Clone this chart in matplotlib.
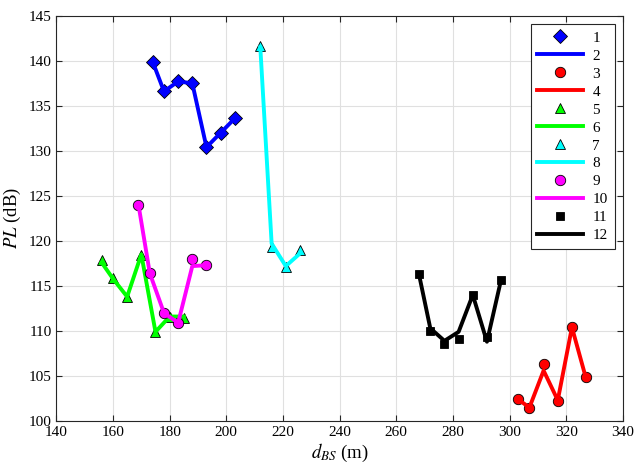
import matplotlib
matplotlib.use("Agg")
import matplotlib.pyplot as plt

plt.rcParams['font.family'] = ['Liberation Serif', 'DejaVu Serif']
plt.rcParams['mathtext.fontset'] = 'stix'

# Data
blue_x = [174, 178, 183, 188, 193, 198, 203]
blue_meas = [139.9, 136.6, 137.7, 137.5, 130.4, 132.0, 133.6]
blue_fit = [139.9, 136.6, 137.7, 137.5, 130.4, 132.0, 133.6]

red_x = [303, 307, 312, 317, 322, 327]
red_meas = [102.4, 101.5, 106.3, 102.2, 110.4, 104.9]
red_fit = [102.4, 101.5, 105.6, 102.3, 110.4, 104.7]

green_x = [156, 160, 165, 170, 175, 180, 185]
green_meas = [117.9, 115.9, 113.8, 118.4, 109.9, 111.6, 111.4]
green_fit = [117.6, 115.8, 113.8, 118.5, 109.9, 111.6, 111.6]

cyan_x = [212, 216, 221, 226]
cyan_meas = [141.6, 119.3, 117.1, 119.0]
cyan_fit = [141.5, 119.7, 117.2, 118.6]

mag_x = [169, 173, 178, 183, 188, 193]
mag_meas = [124.0, 116.4, 112.0, 110.9, 118.0, 117.3]
mag_fit = [124.0, 116.4, 112.0, 110.9, 117.2, 117.3]

black_x = [268, 272, 277, 282, 287, 292, 297]
black_meas = [116.3, 110.0, 108.5, 109.1, 114.0, 109.3, 115.7]
black_fit = [116.3, 110.3, 108.9, 109.9, 114.0, 108.8, 115.7]

labels = [str(i) for i in range(1, 13)]

fig = plt.figure(figsize=(6.35, 4.65), dpi=100)
ax = fig.add_axes([0.0887, 0.0946, 0.8923, 0.8716])

lw = 2.8
ms = 7.5
series = [
    (blue_x, blue_meas, blue_fit, 'D', (0, 0, 1), 7),
    (red_x, red_meas, red_fit, 'o', (1, 0, 0), ms),
    (green_x, green_meas, green_fit, '^', (0, 1, 0), ms),
    (cyan_x, cyan_meas, cyan_fit, '^', (0, 1, 1), ms),
    (mag_x, mag_meas, mag_fit, 'o', (1, 0, 1), ms),
    (black_x, black_meas, black_fit, 's', (0, 0, 0), 6),
]
k = 0
for x, m, f, mk, c, s in series:
    ax.plot(x, m, linestyle='none', marker=mk, markersize=s,
            markerfacecolor=c, markeredgecolor='k', markeredgewidth=0.6,
            label=labels[k], zorder=3)
    ax.plot(x, f, color=c, linewidth=lw, label=labels[k + 1], zorder=3)
    k += 2

ax.set_xlim(140, 340)
ax.set_ylim(100, 145)
ax.set_xticks(range(140, 341, 20))
ax.set_yticks(range(100, 146, 5))
ax.grid(True, color=(0.88, 0.88, 0.88), linewidth=0.8)
ax.set_axisbelow(True)
ax.tick_params(direction='in', length=4, labelsize=11, colors=(0.15, 0.15, 0.15),
               top=True, right=True, labelcolor='black')
for sp in ax.spines.values():
    sp.set_color((0.15, 0.15, 0.15))
    sp.set_linewidth(0.8)

ax.set_xlabel(r'$d_{BS}$ (m)', fontsize=13.5, labelpad=2)
ax.set_ylabel(r'$PL$ (dB)', fontsize=13.5, labelpad=4)

leg = ax.legend(loc='upper right', fontsize=11, handlelength=3.0,
                fancybox=False, framealpha=1, edgecolor=(0.15, 0.15, 0.15),
                borderaxespad=0.55, labelspacing=0.28, handletextpad=0.6,
                borderpad=0.45)
leg.get_frame().set_linewidth(0.8)

fig.savefig('out.png', dpi=100)
